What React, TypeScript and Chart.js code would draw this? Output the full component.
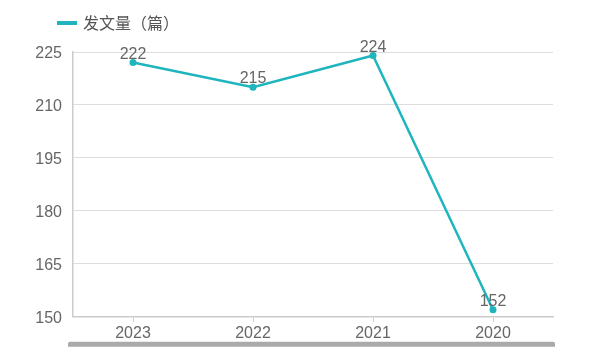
import React, { useEffect, useRef } from "react";
import { Chart, registerables } from "chart.js";

Chart.register(...registerables);

const categories = ["2023", "2022", "2021", "2020"];
const values = [222, 215, 224, 152];
const seriesName = "发文量（篇）";
const yTicks = { min: 150, max: 225, step: 15 };

const TEAL = "#1fb5bf";
const NUM_FONT = "16px 'Liberation Sans', Arial, sans-serif";

const overlayPlugin = {
  id: "overlay",
  afterDatasetsDraw(chart: any) {
    const ctx = chart.ctx;
    const meta = chart.getDatasetMeta(0);
    ctx.save();
    ctx.font = NUM_FONT;
    ctx.fillStyle = "#666";
    ctx.textAlign = "center";
    ctx.textBaseline = "alphabetic";
    meta.data.forEach((el: any, i: number) => {
      ctx.fillText(String(chart.data.datasets[0].data[i]), el.x, el.y - 4);
    });
    ctx.restore();
  },
  afterDraw(chart: any) {
    const ctx = chart.ctx;
    const a = chart.chartArea;
    ctx.save();
    // legend
    ctx.fillStyle = TEAL;
    ctx.fillRect(57, 21, 20, 4);
    ctx.fillStyle = "#555";
    ctx.font = "16px 'Noto Sans CJK SC', sans-serif";
    ctx.textBaseline = "middle";
    ctx.textAlign = "left";
    ctx.fillText(chart.data.datasets[0].label, 83, 23);
    // bottom bar
    ctx.fillStyle = "#aaaaaa";
    const x0 = a.left - 5;
    const x1 = a.right + 2;
    const y0 = a.bottom + 25;
    const h = 5;
    ctx.beginPath();
    ctx.moveTo(x0 + 2, y0);
    ctx.lineTo(x1 - 2, y0);
    ctx.arc(x1 - 2, y0 + 2, 2, -Math.PI / 2, 0);
    ctx.lineTo(x1, y0 + h);
    ctx.lineTo(x0, y0 + h);
    ctx.lineTo(x0, y0 + 2);
    ctx.arc(x0 + 2, y0 + 2, 2, Math.PI, -Math.PI / 2);
    ctx.closePath();
    ctx.fill();
    ctx.restore();
  },
};

export default function App() {
  const ref = useRef<HTMLCanvasElement>(null);
  useEffect(() => {
    const chart = new Chart(ref.current as HTMLCanvasElement, {
      type: "line",
      data: {
        labels: categories,
        datasets: [
          {
            label: seriesName,
            data: values,
            borderColor: TEAL,
            backgroundColor: TEAL,
            borderWidth: 2.5,
            pointRadius: 3.5,
            pointBackgroundColor: TEAL,
            pointBorderWidth: 0,
            tension: 0,
          },
        ],
      },
      options: {
        animation: false,
        responsive: false,
        layout: { padding: { top: 52, right: 40, bottom: 12, left: 0 } },
        plugins: { legend: { display: false }, tooltip: { enabled: false } },
        scales: {
          x: {
            offset: true,
            grid: {
              offset: false,
              drawOnChartArea: false,
              drawTicks: true,
              tickLength: 5,
              color: "#cccccc",
            },
            border: { display: true, color: "#cccccc", width: 1.5 },
            ticks: {
              color: "#666",
              font: { family: "'Liberation Sans', Arial, sans-serif", size: 16 },
              padding: 2,
              maxRotation: 0,
            },
          },
          y: {
            min: yTicks.min,
            max: yTicks.max,
            afterFit: (s: any) => {
              s.width = 73;
            },
            grid: { color: "#dddddd", drawTicks: false },
            border: { display: true, color: "#cccccc", width: 1.5 },
            ticks: {
              stepSize: yTicks.step,
              color: "#666",
              font: { family: "'Liberation Sans', Arial, sans-serif", size: 16 },
              padding: 11,
              labelOffset: 2,
            },
          },
        },
      },
      plugins: [overlayPlugin],
    });
    return () => chart.destroy();
  }, []);
  return (
    <div style={{ position: "fixed", left: 0, top: 0, width: 593, height: 357, background: "#fff" }}>
      <canvas ref={ref} width={593} height={357} style={{ width: 593, height: 357 }} />
    </div>
  );
}
